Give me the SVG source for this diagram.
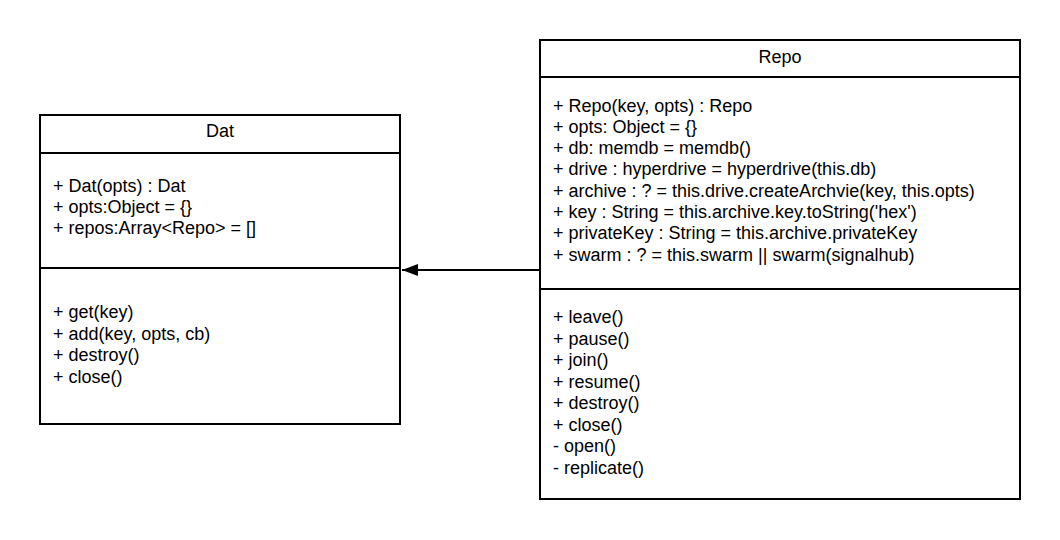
<svg xmlns="http://www.w3.org/2000/svg" width="1060" height="540" viewBox="0 0 1060 540">
<defs>
<style>
.box{fill:#ffffff;stroke:#000000;stroke-width:2}
.sep{stroke:#000000;stroke-width:2;fill:none}
.t{font-family:"Liberation Sans",Arial,sans-serif;font-size:18px;fill:#000000}
.c{text-anchor:middle}
.edge{stroke:#000000;stroke-width:2;fill:none}
</style>
<marker id="arrow" markerWidth="16" markerHeight="12" refX="16" refY="6" orient="auto" markerUnits="userSpaceOnUse" viewBox="0 0 16 12">
<path d="M0,0 L16,6 L0,12 Z" fill="#000000"/>
</marker>
</defs>
<rect width="1060" height="540" fill="#ffffff"/>
<g id="dat">
<rect class="box" x="40" y="115" width="360" height="309"/>
<line class="sep" x1="40" y1="153" x2="400" y2="153"/>
<line class="sep" x1="40" y1="268" x2="400" y2="268"/>
<text class="t c" x="220" y="137">Dat</text>
<text class="t" x="53" y="192">+ Dat(opts) : Dat</text>
<text class="t" x="53" y="213">+ opts:Object = {}</text>
<text class="t" x="53" y="234">+ repos:Array&lt;Repo&gt; = []</text>
<text class="t" x="53" y="318">+ get(key)</text>
<text class="t" x="53" y="339.5">+ add(key, opts, cb)</text>
<text class="t" x="53" y="361">+ destroy()</text>
<text class="t" x="53" y="382.5">+ close()</text>
</g>
<g id="repo">
<rect class="box" x="540" y="40" width="480" height="459"/>
<line class="sep" x1="540" y1="77" x2="1020" y2="77"/>
<line class="sep" x1="540" y1="289" x2="1020" y2="289"/>
<text class="t c" x="780" y="63">Repo</text>
<text class="t" x="553" y="111.5">+ Repo(key, opts) : Repo</text>
<text class="t" x="553" y="132.8">+ opts: Object = {}</text>
<text class="t" x="553" y="154.1">+ db: memdb = memdb()</text>
<text class="t" x="553" y="175.4">+ drive : hyperdrive = hyperdrive(this.db)</text>
<text class="t" x="553" y="196.7">+ archive : ? = this.drive.createArchvie(key, this.opts)</text>
<text class="t" x="553" y="218">+ key : String = this.archive.key.toString('hex')</text>
<text class="t" x="553" y="239.3">+ privateKey : String = this.archive.privateKey</text>
<text class="t" x="553" y="260.6">+ swarm : ? = this.swarm || swarm(signalhub)</text>
<text class="t" x="553" y="323">+ leave()</text>
<text class="t" x="553" y="344.5">+ pause()</text>
<text class="t" x="553" y="366">+ join()</text>
<text class="t" x="553" y="387.5">+ resume()</text>
<text class="t" x="553" y="409">+ destroy()</text>
<text class="t" x="553" y="430.5">+ close()</text>
<text class="t" x="553" y="452">- open()</text>
<text class="t" x="553" y="473.5">- replicate()</text>
</g>
<g id="connectors">
<path class="edge" d="M540,270 L402,270" marker-end="url(#arrow)"/>
</g>
</svg>
